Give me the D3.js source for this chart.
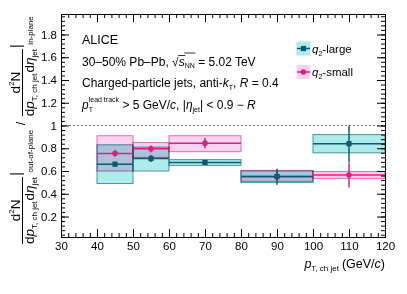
<!DOCTYPE html>
<html><head><meta charset="utf-8">
<script src="https://cdn.jsdelivr.net/npm/d3@7"></script>
<style>
body{margin:0;background:#fff;}
svg{display:block;font-family:"Liberation Sans",Arial,Helvetica,sans-serif;}
text{white-space:pre;}
</style></head>
<body><svg id="c" width="407" height="294"></svg>
<script>
// ---- data ----
const binLo = [40, 50, 60, 80, 100];
const binHi = [50, 60, 80, 100, 120];
const binCenter = [45, 55, 70, 90, 110];
const largeVal = [0.66, 0.71, 0.675, 0.55, 0.84];
const largeStat = [0.02, 0.03, 0.02, 0.07, 0.16];
const largeSysLo = [0.49, 0.60, 0.65, 0.50, 0.76];
const largeSysHi = [0.83, 0.81, 0.70, 0.60, 0.92];
const smallVal = [0.755, 0.795, 0.845, 0.555, 0.565];
const smallStat = [0.025, 0.03, 0.045, 0.05, 0.11];
const smallSysLo = [0.60, 0.72, 0.77, 0.51, 0.535];
const smallSysHi = [0.91, 0.85, 0.91, 0.605, 0.595];
const xTicks = [30, 40, 50, 60, 70, 80, 90, 100, 110, 120];
const yTicks = [0.2, 0.4, 0.6, 0.8, 1.0, 1.2, 1.4, 1.6, 1.8];
const yTickLabels = ["0.2", "0.4", "0.6", "0.8", "1", "1.2", "1.4", "1.6", "1.8"];

const C = {
  tealFill: "rgb(172,236,234)", tealEdge: "rgb(70,150,160)", teal: "rgb(16,88,108)",
  pinkFill: "rgb(253,210,240)", pinkEdge: "rgb(226,110,172)", pink: "rgb(214,36,122)"
};

const svg = d3.select("#c");
const L = 61, R = 385, T = 14, B = 237;
const x = d3.scaleLinear().domain([30, 120]).range([L, R]);
const y = d3.scaleLinear().domain([0.02, 1.98]).range([B, T]);

// rich text helper
function rich(g, x0, y0, pieces, anchor) {
  const grp = g.append("g");
  let cx = 0, lastStart = 0, lastEnd = 0;
  pieces.forEach(p => {
    if (p.gap) { cx += p.gap; return; }
    const start = p.stack ? lastStart : cx;
    const t = grp.append("text").attr("x", start).attr("y", p.dy || 0)
      .attr("font-size", p.size || 11).attr("fill", p.fill || "#000")
      .style("font-style", p.it ? "italic" : "normal").style("white-space", "pre").text(p.t);
    const w = t.node().getComputedTextLength();
    if (p.over) {
      grp.append("line").attr("x1", start - 0.5).attr("x2", start + w + 0.5)
        .attr("y1", p.over).attr("y2", p.over).attr("stroke", "#000").attr("stroke-width", 0.8);
    }
    if (p.stack) { cx = Math.max(lastEnd, start + w); }
    else { lastStart = start; cx = start + w; }
    lastEnd = cx;
  });
  let sx = x0;
  if (anchor === "end") sx = x0 - cx;
  if (anchor === "middle") sx = x0 - cx / 2;
  grp.attr("transform", `translate(${sx},${y0})`);
  return cx;
}
function measure(g, pieces) {
  const tmp = g.append("g");
  const w = rich(tmp, 0, 0, pieces);
  tmp.remove();
  return w;
}

// ---- boxes (systematics) ----
const boxes = svg.append("g");
binLo.forEach((lo, i) => {
  boxes.append("rect").attr("x", x(lo)).attr("width", x(binHi[i]) - x(lo))
    .attr("y", y(smallSysHi[i])).attr("height", y(smallSysLo[i]) - y(smallSysHi[i]))
    .attr("fill", C.pinkFill).attr("stroke", C.pinkEdge).attr("stroke-width", 1)
    .style("mix-blend-mode", "multiply");
});
binLo.forEach((lo, i) => {
  boxes.append("rect").attr("x", x(lo)).attr("width", x(binHi[i]) - x(lo))
    .attr("y", y(largeSysHi[i])).attr("height", y(largeSysLo[i]) - y(largeSysHi[i]))
    .attr("fill", C.tealFill).attr("stroke", C.tealEdge).attr("stroke-width", 1)
    .style("mix-blend-mode", "multiply");
});

// dashed line at 1
svg.append("line").attr("x1", L).attr("x2", R).attr("y1", y(1)).attr("y2", y(1))
  .attr("stroke", "#777").attr("stroke-dasharray", "2,2").attr("stroke-width", 1);

// ---- central lines, stat bars, markers ----
function series(vals, stat, col, marker) {
  const g = svg.append("g");
  vals.forEach((v, i) => {
    g.append("line").attr("x1", x(binLo[i])).attr("x2", x(binHi[i]))
      .attr("y1", y(v)).attr("y2", y(v)).attr("stroke", col).attr("stroke-width", 1.5);
    g.append("line").attr("x1", x(binCenter[i])).attr("x2", x(binCenter[i]))
      .attr("y1", y(v - stat[i])).attr("y2", y(v + stat[i])).attr("stroke", col).attr("stroke-width", 1.5);
    if (marker === "sq") {
      g.append("rect").attr("x", x(binCenter[i]) - 2.6).attr("y", y(v) - 2.6)
        .attr("width", 5.2).attr("height", 5.2).attr("fill", col);
    } else {
      g.append("circle").attr("cx", x(binCenter[i])).attr("cy", y(v)).attr("r", 2.8).attr("fill", col);
    }
  });
}
series(smallVal, smallStat, C.pink, "circ");
series(largeVal, largeStat, C.teal, "sq");

// ---- axes ----
const ax = svg.append("g").attr("font-size", 11);
const xMinor = d3.range(30, 120.01, 2);
const yMinor = d3.range(0.04, 1.98, 0.04);
function styleAxis(g) {
  g.select(".domain").attr("stroke", "#000").attr("stroke-width", 1);
  g.selectAll(".tick line").attr("stroke", "#000");
  g.selectAll(".tick text").attr("font-family", "Liberation Sans, Arial, sans-serif").attr("font-size", 11.5).attr("fill", "#000");
}
ax.append("g").attr("transform", `translate(0,${B})`)
  .call(d3.axisBottom(x).tickValues(xTicks).tickSize(-8).tickPadding(12).tickFormat(d3.format("d")))
  .call(styleAxis).call(g => g.selectAll(".tick text").attr("dy", "0.71em").attr("y", 5));
ax.append("g").attr("transform", `translate(0,${B})`)
  .call(d3.axisBottom(x).tickValues(xMinor).tickSize(-4).tickFormat(""))
  .call(styleAxis);
ax.append("g").attr("transform", `translate(0,${T})`)
  .call(d3.axisTop(x).tickValues(xTicks).tickSize(-8).tickFormat(""))
  .call(styleAxis);
ax.append("g").attr("transform", `translate(0,${T})`)
  .call(d3.axisTop(x).tickValues(xMinor).tickSize(-4).tickFormat(""))
  .call(styleAxis);
ax.append("g").attr("transform", `translate(${L},0)`)
  .call(d3.axisLeft(y).tickValues(yTicks).tickSize(-8).tickPadding(12).tickFormat((d, i) => yTickLabels[i]))
  .call(styleAxis).call(g => g.selectAll(".tick text").attr("x", -4));
ax.append("g").attr("transform", `translate(${L},0)`)
  .call(d3.axisLeft(y).tickValues(yMinor).tickSize(-4).tickFormat(""))
  .call(styleAxis);
ax.append("g").attr("transform", `translate(${R},0)`)
  .call(d3.axisRight(y).tickValues(yTicks).tickSize(-8).tickFormat(""))
  .call(styleAxis);
ax.append("g").attr("transform", `translate(${R},0)`)
  .call(d3.axisRight(y).tickValues(yMinor).tickSize(-4).tickFormat(""))
  .call(styleAxis);

// x title
rich(svg, R, 268, [
  {t: "p", it: true, size: 12.5},
  {t: "T, ch jet", size: 8, dy: 3},
  {gap: 3},
  {t: "(GeV/", size: 12.5},
  {t: "c", it: true, size: 12.5},
  {t: ")", size: 12.5}
], "end");

// ---- annotation text ----
const tx = 82, fs = 12, ss = 7;
rich(svg, tx, 44, [{t: "ALICE", size: 12.5}]);
rich(svg, tx, 65.5, [
  {t: "30–50% Pb–Pb, ", size: fs},
  {t: "√", size: fs},
  {t: "s", it: true, size: fs, over: -10},
  {t: "NN", size: ss, dy: 2.5, over: -12.5},
  {t: " = 5.02 TeV", size: fs}
]);
rich(svg, tx, 87, [
  {t: "Charged-particle jets, anti-", size: fs},
  {t: "k", it: true, size: fs},
  {t: "T", size: ss, dy: 2.5},
  {t: ", ", size: fs},
  {t: "R", it: true, size: fs},
  {t: " = 0.4", size: fs}
]);
rich(svg, tx, 108.5, [
  {t: "p", it: true, size: fs},
  {t: "T", size: ss, dy: 3},
  {t: "lead track", size: ss, dy: -6.5, stack: true},
  {t: " > 5 GeV/", size: fs},
  {t: "c", it: true, size: fs},
  {t: ", |", size: fs},
  {t: "η", it: true, size: fs},
  {t: "jet", size: ss, dy: 3},
  {t: "| < 0.9 − ", size: fs},
  {t: "R", it: true, size: fs}
]);

// ---- legend ----
function legendEntry(yc, fill, edge, col, marker, label) {
  const g = svg.append("g");
  g.append("rect").attr("x", 297).attr("y", yc - 6.5).attr("width", 13).attr("height", 13)
    .attr("fill", fill).attr("stroke", fill);
  g.append("line").attr("x1", 297).attr("x2", 310).attr("y1", yc).attr("y2", yc)
    .attr("stroke", col).attr("stroke-width", 1.5);
  if (marker === "sq") g.append("rect").attr("x", 303.5 - 2.6).attr("y", yc - 2.6).attr("width", 5.2).attr("height", 5.2).attr("fill", col);
  else g.append("circle").attr("cx", 303.5).attr("cy", yc).attr("r", 2.8).attr("fill", col);
  rich(svg, 312, yc + 4, [
    {t: "q", it: true, size: 11.5},
    {t: "2", size: 7, dy: 3},
    {t: label, size: 11.5}
  ]);
}
legendEntry(48.5, C.tealFill, C.tealEdge, C.teal, "sq", "-large");
legendEntry(72, C.pinkFill, C.pinkEdge, C.pink, "circ", "-small");

// ---- y title (rotated) ----
const yt = svg.append("g").attr("transform", "translate(0,294) rotate(-90)");
const F = 13.5, S = 8;
const numP = [{t: "d", size: F}, {t: "2", size: S, dy: -5.5}, {t: "N", size: F}];
const denP = [{t: "d", size: F}, {t: "p", it: true, size: F}, {t: "T, ch jet", size: S, dy: 3.8},
  {gap: 1}, {t: "d", size: F}, {t: "η", it: true, size: F}, {t: "jet", size: S, dy: 3.8}];
function frac(u0) {
  const wn = measure(yt, numP), wd = measure(yt, denP);
  const w = Math.max(wn, wd);
  rich(yt, u0 + w / 2, 19.5, numP, "middle");
  rich(yt, u0 + w / 2, 33.5, denP, "middle");
  yt.append("line").attr("x1", u0).attr("x2", u0 + w).attr("y1", 22.5).attr("y2", 22.5)
    .attr("stroke", "#000").attr("stroke-width", 1);
  return u0 + w;
}
function bar(u) {
  yt.append("line").attr("x1", u).attr("x2", u).attr("y1", 10).attr("y2", 24)
    .attr("stroke", "#000").attr("stroke-width", 1.1);
}
let u = frac(50);
bar(u + 3);
u = u + 4 + rich(yt, u + 4.5, 32.5, [{t: "out-of-plane", size: S}]);
rich(yt, u + 5, 25, [{t: "/", size: 13}]);
u = frac(u + 14);
bar(u + 3);
rich(yt, u + 4.5, 32.5, [{t: "in-plane", size: S}]);
</script></body></html>
